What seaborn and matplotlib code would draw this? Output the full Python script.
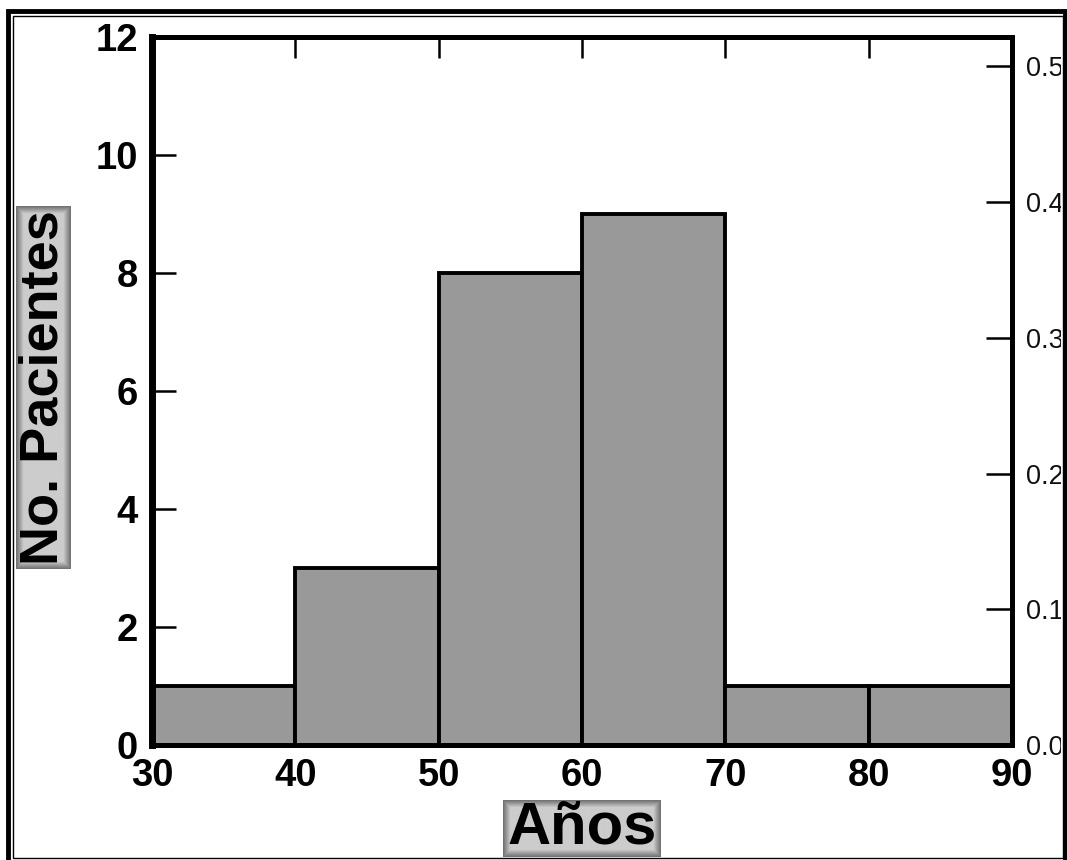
import numpy as np
import pandas as pd
import matplotlib
matplotlib.use("Agg")
import matplotlib.pyplot as plt
from matplotlib.patches import Rectangle
from matplotlib.transforms import Bbox, TransformedBbox
import seaborn as sns

# Age groups (lower edge of each 10-year class) and patient counts
bin_edges = [30, 40, 50, 60, 70, 80, 90]
class_start = [30, 40, 50, 60, 70, 80]
patients = [1, 3, 8, 9, 1, 1]
left_ticks = [0, 2, 4, 6, 8, 10, 12]
right_ticks = [0.0, 0.1, 0.2, 0.3, 0.4, 0.5]

sns.set_theme(style="white")
plt.rcParams["font.family"] = ["Liberation Sans", "DejaVu Sans"]
plt.rcParams["text.color"] = "black"
plt.rcParams["xtick.color"] = "black"
plt.rcParams["ytick.color"] = "black"

df = pd.DataFrame({"edad": class_start, "n": patients})
total = sum(patients)

fig = plt.figure(figsize=(10.67, 8.6), dpi=100)
ax = fig.add_axes([0.1425, 0.1337, 0.8060, 0.8233])

sns.histplot(data=df, x="edad", weights="n", bins=bin_edges, ax=ax,
             color="#999999", alpha=1.0, edgecolor="black", linewidth=2.8)

ax.set_xlim(30, 90)
ax.set_ylim(0, 12)
ax.set_xticks(bin_edges)
ax.set_yticks(left_ticks)
ax.set_xlabel("")
ax.set_ylabel("")
for s in ax.spines.values():
    s.set_visible(True)
    s.set_color("black")
    s.set_linewidth(3.6)
ax.spines["left"].set_linewidth(5)

ax.tick_params(axis="y", which="both", left=True, direction="in",
               length=17, width=1.8, pad=10, labelsize=27.5, labelcolor="black")
ax.tick_params(axis="x", which="both", bottom=True, top=True, direction="in",
               length=15, width=1.8, pad=9, labelsize=27.5, labelcolor="black")
for lbl in ax.get_xticklabels() + ax.get_yticklabels():
    lbl.set_fontweight("bold")

# Relative frequency on the right-hand axis
ax2 = ax.twinx()
ax2.set_ylim(0, 12 / total)
ax2.set_yticks(right_ticks)
ax2.set_yticklabels([f"{t:.1f}" for t in right_ticks])
ax2.tick_params(axis="y", direction="in", length=19, width=1.8, pad=10,
                labelsize=19.5, labelcolor="#111111")
for s in ax2.spines.values():
    s.set_visible(False)
ax2.grid(False)
ax.grid(False)

clip = TransformedBbox(Bbox([[0, 0], [1061 / 1067, 1]]), fig.transFigure)
for lbl in ax2.get_yticklabels():
    lbl.set_clip_on(True)
    lbl.set_clip_box(clip)

# Axis titles on shaded boxes
ylab = fig.text(0.0405, 0.549, "No. Pacientes", rotation=90, ha="center",
                va="center", fontsize=39, fontweight="bold", zorder=5)
xlab = fig.text(0.5455, 0.037, "Años", ha="center", va="center",
                fontsize=43, fontweight="bold", zorder=5)

fig.canvas.draw()


def shaded_box(text, padx, pady):
    bb = text.get_window_extent()
    W, H = fig.bbox.width, fig.bbox.height
    x0, y0 = (bb.x0 - padx) / W, (bb.y0 - pady) / H
    w, h = (bb.width + 2 * padx) / W, (bb.height + 2 * pady) / H
    bax = fig.add_axes([x0, y0, w, h], zorder=-1)
    nx, ny = int(bb.width + 2 * padx), int(bb.height + 2 * pady)
    xx = np.minimum(np.arange(nx), np.arange(nx)[::-1])
    yy = np.minimum(np.arange(ny), np.arange(ny)[::-1])
    d = np.minimum(xx[None, :], yy[:, None])
    v = 0.45 + 0.35 * np.clip(d / 7.0, 0, 1)
    bax.imshow(v, cmap="gray", vmin=0, vmax=1, aspect="auto",
               interpolation="bilinear")
    bax.set_axis_off()


shaded_box(ylab, 2, 4)
shaded_box(xlab, 4, 1)

# Double frame around the figure
fig.patches.append(Rectangle((8 / 1067, -2 / 860), 1057 / 1067, 851 / 860,
                             transform=fig.transFigure, fill=False,
                             edgecolor="black", linewidth=3.5, zorder=10))
fig.patches.append(Rectangle((12.5 / 1067, 2.5 / 860), 1050 / 1067, 842 / 860,
                             transform=fig.transFigure, fill=False,
                             edgecolor="black", linewidth=1.0, zorder=10))

fig.savefig("out.png", dpi=100)
